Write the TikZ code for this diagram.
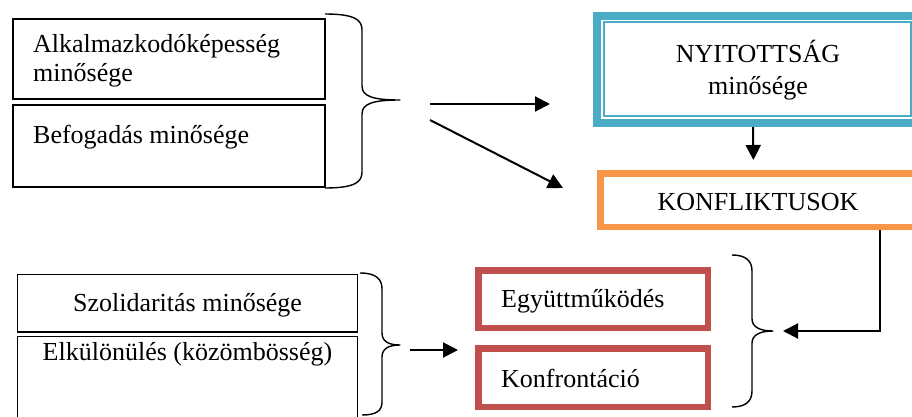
\documentclass[tikz,border=0pt]{standalone}
\usepackage{fontspec}
\setmainfont{Liberation Serif}
\usetikzlibrary{arrows.meta}
\definecolor{tealc}{HTML}{4BACC6}
\definecolor{orangec}{HTML}{F79646}
\definecolor{redc}{HTML}{C0504D}
\tikzset{
  txt/.style={font=\fontsize{26pt}{30pt}\selectfont, inner sep=0pt},
  blackbox/.style={draw=black, line width=1.7pt, inner sep=0pt, rectangle},
  tealbox/.style={draw=tealc, line width=8pt, inner sep=0pt, rectangle},
  orangebox/.style={draw=orangec, line width=6.5pt, inner sep=0pt, rectangle},
  redbox/.style={draw=redc, line width=6.5pt, inner sep=0pt, rectangle},
  arr/.style={line width=2pt, -{Triangle[length=15pt,width=15pt]}},
  bracestyle/.style={line width=1.4pt, line join=round}
}
\begin{document}
\begin{tikzpicture}[x=1pt,y=-1pt]
\path[use as bounding box, clip] (0,0) rectangle (912,417);
% boxes
\node[blackbox, minimum width=312pt, minimum height=80pt] (boxA) at (169,59) {};
\node[blackbox, minimum width=312pt, minimum height=82pt] (boxB) at (169,146) {};
\node[blackbox, minimum width=340pt, minimum height=57.5pt] (boxS) at (187.5,303.25) {};
\node[blackbox, minimum width=340pt, minimum height=93.5pt] (boxE) at (187.5,383.25) {};
\node[tealbox, minimum width=321pt, minimum height=107pt] (nyit) at (757.5,69.5) {};
\draw[tealc, line width=2pt] ([shift={(11pt,-10pt)}]nyit.north west) rectangle ([shift={(-11pt,11pt)}]nyit.south east);
\node[orangebox, minimum width=315.5pt, minimum height=53.5pt] (konf) at (758,200) {};
\node[redbox, minimum width=229.5pt, minimum height=57.5pt] (egy) at (593,299) {};
\node[redbox, minimum width=229.5pt, minimum height=58.5pt] (konfr) at (593,377.5) {};
% texts
\node[txt, anchor=base west, align=left, font=\fontsize{26pt}{29pt}\selectfont] (tA) at (33,82) {Alkalmazkodóképesség\\minősége};
\node[txt, anchor=base west] (tB) at (33,143) {Befogadás minősége};
\node[txt, anchor=base, align=center, font=\fontsize{26pt}{32pt}\selectfont] (tN) at (758,95) {NYITOTTSÁG\\minősége};
\node[txt, anchor=base] (tK) at (758,210.5) {KONFLIKTUSOK};
\node[txt, anchor=base] (tS) at (187.5,311) {Szolidaritás minősége};
\node[txt, anchor=base] (tE) at (187.5,360) {Elkülönülés (közömbösség)};
\node[txt, anchor=base west] (tEgy) at (501,307) {Együttműködés};
\node[txt, anchor=base west] (tKo) at (501,387) {Konfrontáció};
% braces
\draw[bracestyle] (325,14) .. controls (355,14) and (362,20) .. (362,30) -- (362,86)
  .. controls (362,96) and (372,100) .. (400,100)
  .. controls (372,100) and (362,104) .. (362,114) -- (362,172)
  .. controls (362,182) and (355,188) .. (325,188);
\draw[bracestyle] (360,273) .. controls (376,273) and (382,279) .. (382,289) -- (382,333)
  .. controls (382,341) and (388,345) .. (400,345)
  .. controls (388,345) and (382,349) .. (382,357) -- (382,402)
  .. controls (382,411) and (376,415) .. (362,415);
\draw[bracestyle] (732,255) .. controls (746,255) and (752,261) .. (752,271) -- (752,319)
  .. controls (752,327) and (760,331) .. (773,331)
  .. controls (760,331) and (752,335) .. (752,343) -- (752,391)
  .. controls (752,401) and (746,407) .. (732,407);
% arrow coordinates
\coordinate (a1s) at (430,104);
\coordinate (a1e) at (550,104);
\coordinate (a2s) at (430,120);
\coordinate (a2e) at (563,188);
\coordinate (a4e) at (783,331);
\coordinate (a5s) at (410,350);
\coordinate (a5e) at (458,350);
% arrows
\draw[arr] (a1s) -- (a1e);
\draw[arr] (a2s) -- (a2e);
\draw[arr, shorten >=10pt] ([xshift=-4.5pt]nyit.south) -- ([xshift=-4.5pt]konf.north);
\draw[arr] ([xshift=122pt]konf.south) |- (a4e);
\draw[arr] (a5s) -- (a5e);
\end{tikzpicture}
\end{document}
